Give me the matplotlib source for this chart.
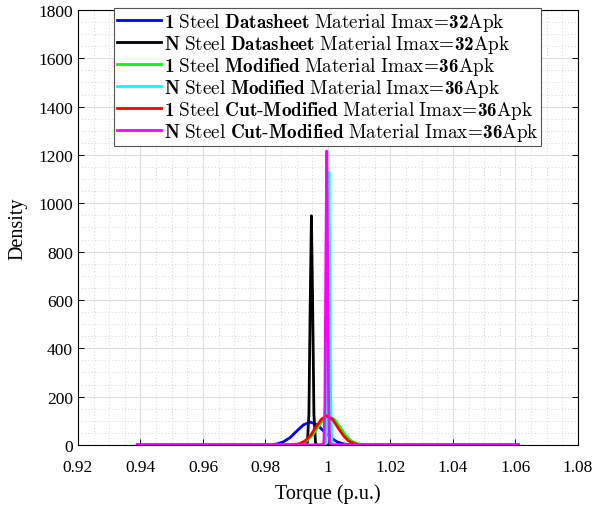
import matplotlib
matplotlib.use("Agg")
import matplotlib.pyplot as plt
from matplotlib.ticker import MultipleLocator

plt.rcParams['font.family'] = ['Liberation Serif', 'DejaVu Serif']
plt.rcParams['mathtext.fontset'] = 'custom'
plt.rcParams['mathtext.rm'] = 'cmr10'
plt.rcParams['mathtext.bf'] = 'cmb10'
plt.rcParams['mathtext.it'] = 'cmr10'

# density curves (torque p.u., density)
x_1_ds = [0.939, 0.9793, 0.9814, 0.9836, 0.9857, 0.9879, 0.9900, 0.9922, 0.9943,
          0.9965, 0.9986, 1.0008, 1.0029, 1.0051, 1.0072, 1.0094, 1.061]
y_1_ds = [0, 0.2, 1.0, 4.2, 12.9, 30.8, 57.6, 83.8, 95,
          83.8, 57.6, 30.8, 12.9, 4.2, 1.0, 0.2, 0]

x_n_ds = [0.939, 0.9930, 0.9934, 0.9939, 0.9943, 0.9947, 0.9951, 0.9955, 0.9960, 0.9964, 1.061]
y_n_ds = [0, 0, 10, 128, 575, 948, 575, 128, 10, 0, 0]

x_1_mod = [0.939, 0.9877, 0.9895, 0.9913, 0.9931, 0.9949, 0.9967, 0.9985, 1.0003,
           1.0021, 1.0039, 1.0057, 1.0075, 1.0093, 1.0111, 1.0129, 1.061]
y_1_mod = [0, 0.3, 1.3, 5.2, 16.1, 38.6, 72.2, 105.0, 119,
           105.0, 72.2, 38.6, 16.1, 5.2, 1.3, 0.3, 0]

x_n_mod = [0.939, 0.9991, 0.9994, 0.9997, 1.0000, 1.0003, 1.0006, 1.0009, 1.0012, 1.0015, 1.061]
y_n_mod = [0, 0, 12, 153, 685, 1130, 685, 153, 12, 0, 0]

x_1_cut = [0.939, 0.9874, 0.9891, 0.9909, 0.9926, 0.9944, 0.9961, 0.9979, 0.9996,
           1.0014, 1.0031, 1.0049, 1.0066, 1.0084, 1.0101, 1.0119, 1.061]
y_1_cut = [0, 0.3, 1.3, 5.3, 16.4, 39.3, 73.4, 106.8, 121,
           106.8, 73.4, 39.3, 16.4, 5.3, 1.3, 0.3, 0]

x_n_cut = [0.939, 0.9984, 0.9987, 0.9990, 0.9993, 0.9996, 0.9999, 1.0002, 1.0005, 1.0008, 1.061]
y_n_cut = [0, 0, 13, 165, 737, 1216, 737, 165, 13, 0, 0]

labels = [
    r"$\mathbf{1}\ \mathrm{Steel}\ \mathbf{Datasheet}\ \mathrm{Material\ Imax}\!=\!\mathbf{32}\mathrm{Apk}$",
    r"$\mathbf{N}\ \mathrm{Steel}\ \mathbf{Datasheet}\ \mathrm{Material\ Imax}\!=\!\mathbf{32}\mathrm{Apk}$",
    r"$\mathbf{1}\ \mathrm{Steel}\ \mathbf{Modified}\ \mathrm{Material\ Imax}\!=\!\mathbf{36}\mathrm{Apk}$",
    r"$\mathbf{N}\ \mathrm{Steel}\ \mathbf{Modified}\ \mathrm{Material\ Imax}\!=\!\mathbf{36}\mathrm{Apk}$",
    r"$\mathbf{1}\ \mathrm{Steel}\ \mathbf{Cut\text{-}Modified}\ \mathrm{Material\ Imax}\!=\!\mathbf{36}\mathrm{Apk}$",
    r"$\mathbf{N}\ \mathrm{Steel}\ \mathbf{Cut\text{-}Modified}\ \mathrm{Material\ Imax}\!=\!\mathbf{36}\mathrm{Apk}$",
]
colors = ['#0000ff', '#000000', '#00ff00', '#00ffff', '#ff0000', '#ff00ff']

fig = plt.figure(figsize=(5.93, 5.10), dpi=100)
ax = fig.add_axes([0.1315, 0.1255, 0.8432, 0.853])

series = [(x_1_ds, y_1_ds), (x_n_ds, y_n_ds), (x_1_mod, y_1_mod),
          (x_n_mod, y_n_mod), (x_1_cut, y_1_cut), (x_n_cut, y_n_cut)]
for (xs, ys), c, lab in zip(series, colors, labels):
    ax.plot(xs, ys, color=c, linewidth=2, label=lab)

ax.set_xlim(0.92, 1.08)
ax.set_ylim(0, 1800)
ax.xaxis.set_major_locator(MultipleLocator(0.02))
ax.xaxis.set_minor_locator(MultipleLocator(0.005))
ax.yaxis.set_major_locator(MultipleLocator(200))
ax.yaxis.set_minor_locator(MultipleLocator(50))
ax.set_xticklabels([f"{v:g}" for v in ax.get_xticks()])

ax.grid(which='major', color='#dedede', linewidth=0.8, linestyle='-')
ax.grid(which='minor', color='#c8c8c8', linewidth=0.6, linestyle=(0, (1, 3)))
ax.set_axisbelow(True)
ax.tick_params(which='both', direction='in', top=True, right=True, labelsize=12.5)
ax.tick_params(which='major', length=4, width=0.7)
ax.tick_params(axis='x', pad=10)
ax.tick_params(which='minor', length=0)
for s in ax.spines.values():
    s.set_linewidth(0.8)

ax.set_xlabel('Torque (p.u.)', fontsize=14.5, labelpad=6)
ax.set_ylabel('Density', fontsize=14.5, labelpad=8)

leg = ax.legend(loc='upper left', bbox_to_anchor=(0.072, 1.004), fontsize=13.8,
                handlelength=2.3, handletextpad=0.15, labelspacing=0.0,
                borderpad=0.15, borderaxespad=0, fancybox=False, framealpha=1)
leg.get_frame().set_edgecolor('#555555')
leg.get_frame().set_linewidth(0.8)

fig.savefig('out.png', dpi=100)
